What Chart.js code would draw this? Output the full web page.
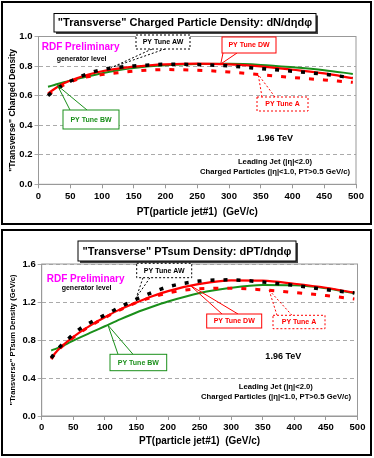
<!DOCTYPE html>
<html>
<head>
<meta charset="utf-8">
<script src="https://cdn.jsdelivr.net/npm/chart.js@4/dist/chart.umd.min.js"></script>
<style>
  body { margin: 0; background: #fff; width: 374px; height: 458px; overflow: hidden; position: relative; }
  .panel { position: absolute; left: 1px; width: 367px; border: 2px solid #000; background: #fff; }
  #p1 { top: 1px; height: 220px; }
  #p2 { top: 229px; height: 223px; }
  canvas { position: absolute; left: 0; top: 0; }
</style>
</head>
<body>
<div class="panel" id="p1"><canvas id="c1" width="367" height="220"></canvas></div>
<div class="panel" id="p2"><canvas id="c2" width="367" height="223"></canvas></div>
<script>
// PT of leading particle jet (GeV/c), shared by every curve
const pt = [15, 25, 40, 60, 80, 100, 125, 150, 175, 200, 250, 300, 350, 400, 450, 495];

// "Transverse" charged particle density dN/detadphi
const densAW = [0.600, 0.635, 0.675, 0.717, 0.752, 0.776, 0.791, 0.801, 0.807, 0.812, 0.810, 0.801, 0.783, 0.765, 0.745, 0.720];
const densDW = [0.615, 0.645, 0.683, 0.718, 0.745, 0.765, 0.783, 0.796, 0.805, 0.811, 0.816, 0.812, 0.798, 0.775, 0.750, 0.718];
const densBW = [0.660, 0.672, 0.690, 0.712, 0.733, 0.752, 0.771, 0.786, 0.798, 0.806, 0.814, 0.815, 0.808, 0.792, 0.772, 0.747];
const densA  = [0.605, 0.635, 0.672, 0.708, 0.730, 0.742, 0.755, 0.766, 0.773, 0.776, 0.772, 0.760, 0.742, 0.723, 0.706, 0.690];

// "Transverse" PTsum density dPT/detadphi (GeV/c)
const ptsumAW = [0.610, 0.700, 0.800, 0.915, 0.995, 1.062, 1.150, 1.230, 1.300, 1.360, 1.420, 1.433, 1.410, 1.375, 1.330, 1.295];
const ptsumDW = [0.610, 0.690, 0.780, 0.880, 0.965, 1.040, 1.125, 1.195, 1.260, 1.315, 1.390, 1.428, 1.425, 1.392, 1.350, 1.298];
const ptsumBW = [0.690, 0.715, 0.760, 0.825, 0.885, 0.945, 1.020, 1.090, 1.150, 1.205, 1.295, 1.350, 1.378, 1.375, 1.345, 1.292];
const ptsumA  = [0.600, 0.685, 0.775, 0.875, 0.960, 1.035, 1.120, 1.195, 1.250, 1.295, 1.340, 1.345, 1.328, 1.300, 1.268, 1.232];

const FONT = '"Liberation Sans", Arial, sans-serif';
const RED = '#ff0000';
const GREEN = '#1a8f1a';

function pts(ys) {
  return pt.map((x, i) => ({ x: x, y: ys[i] }));
}

function series(label, ys, color, width, dash) {
  return {
    label: label,
    data: pts(ys),
    borderColor: color,
    borderWidth: width,
    borderDash: dash || [],
    borderCapStyle: 'butt',
    pointRadius: 0,
    fill: false,
    cubicInterpolationMode: 'monotone'
  };
}

// boxes, callouts and notes drawn over the chart
const decor = {
  id: 'decor',
  afterDraw(chart, args, o) {
    const { ctx, chartArea: a, scales: { x, y } } = chart;
    ctx.save();

    ctx.strokeStyle = '#999';
    ctx.lineWidth = 1;
    ctx.setLineDash([]);
    ctx.strokeRect(a.left, a.top, a.right - a.left, a.bottom - a.top);

    // title box with shadow
    const t = o.title;
    ctx.fillStyle = '#444';
    ctx.fillRect(t.box[0] + 2, t.box[1] + 2, t.box[2], t.box[3]);
    ctx.fillStyle = '#fff';
    ctx.fillRect(t.box[0], t.box[1], t.box[2], t.box[3]);
    ctx.strokeStyle = '#000';
    ctx.strokeRect(t.box[0], t.box[1], t.box[2], t.box[3]);
    ctx.fillStyle = '#000';
    ctx.font = 'bold 11px ' + FONT;
    ctx.textAlign = 'center';
    ctx.textBaseline = 'middle';
    ctx.fillText(t.text, t.box[0] + t.box[2] / 2, t.box[1] + t.box[3] / 2 + 0.5);

    o.callouts.forEach(c => {
      const [bx, by, bw, bh] = c.box;
      const edge = c.up ? by : by + bh;
      const tx = x.getPixelForValue(c.tip[0]);
      const ty = y.getPixelForValue(c.tip[1]);
      ctx.strokeStyle = c.color;
      ctx.lineWidth = 1;
      ctx.setLineDash(c.dash ? [2, 2] : []);
      ctx.beginPath();
      ctx.moveTo(c.base[0], edge);
      ctx.lineTo(tx, ty);
      ctx.moveTo(c.base[1], edge);
      ctx.lineTo(tx, ty);
      ctx.stroke();
      ctx.fillStyle = '#fff';
      ctx.fillRect(bx, by, bw, bh);
      ctx.strokeRect(bx, by, bw, bh);
      ctx.setLineDash([]);
      ctx.fillStyle = c.color;
      ctx.font = 'bold 7px ' + FONT;
      ctx.textAlign = 'center';
      ctx.textBaseline = 'middle';
      ctx.fillText(c.text, bx + bw / 2, by + bh / 2 + 0.5);
    });

    o.notes.forEach(n => {
      ctx.fillStyle = n.color || '#000';
      ctx.font = 'bold ' + n.size + 'px ' + FONT;
      ctx.textAlign = n.align || 'center';
      ctx.textBaseline = 'middle';
      ctx.fillText(n.text, n.x, n.y);
    });
    ctx.restore();
  }
};

function makeChart(id, sets, cfg) {
  return new Chart(document.getElementById(id), {
    type: 'line',
    data: { datasets: sets },
    options: {
      responsive: false,
      animation: false,
      layout: { padding: { top: cfg.padTop, right: cfg.padRight, left: 0, bottom: 0 } },
      plugins: {
        legend: { display: false },
        tooltip: { enabled: false },
        decor: cfg.decor
      },
      scales: {
        x: {
          type: 'linear',
          min: 0,
          max: 500,
          afterFit: s => { s.height = cfg.xHeight; },
          ticks: { stepSize: 50, color: '#000', font: { family: FONT, size: 9.5, weight: 'bold' }, padding: 2, maxRotation: 0 },
          grid: { drawOnChartArea: false, drawTicks: true, tickLength: 4, color: '#999' },
          border: { color: '#999' },
          title: {
            display: true,
            text: 'PT(particle jet#1)  (GeV/c)',
            color: '#000',
            font: { family: FONT, size: 10, weight: 'bold' },
            padding: { top: 0, bottom: cfg.xTitlePad }
          }
        },
        y: {
          min: 0,
          max: cfg.yMax,
          afterFit: s => { s.width = cfg.yWidth; },
          ticks: { stepSize: cfg.yStep, color: '#000', font: { family: FONT, size: 9.5, weight: 'bold' }, padding: 2, callback: v => v.toFixed(1) },
          grid: { color: '#aaa', tickLength: 4 },
          border: { color: '#999', dash: [4, 3] },
          title: {
            display: true,
            text: cfg.yTitle,
            color: '#000',
            font: { family: FONT, size: cfg.yTitleSize, weight: 'bold' },
            padding: { top: cfg.yTitlePad, bottom: 0 }
          }
        }
      }
    },
    plugins: [decor]
  });
}

makeChart('c1', [
  series('PY Tune AW', densAW, '#000', 3.5, [4, 9]),
  series('PY Tune A', densA, RED, 3, [5, 9]),
  series('PY Tune DW', densDW, RED, 2.2),
  series('PY Tune BW', densBW, GREEN, 2)
], {
  padTop: 33.5, padRight: 14, xHeight: 38.7, yWidth: 35.5, yMax: 1.0, yStep: 0.2,
  xTitlePad: 5, yTitle: '"Transverse" Charged Density', yTitleSize: 8.5, yTitlePad: 4.4,
  decor: {
    title: { text: '"Transverse" Charged Particle Density: dN/d\u03B7d\u03C6', box: [51, 10.5, 262, 18.5] },
    callouts: [
      { text: 'PY Tune AW', color: '#000', dash: true, box: [133, 32, 54, 14], up: false, base: [149, 162], tip: [115, 0.79] },
      { text: 'PY Tune DW', color: RED, dash: false, box: [219, 34, 54, 16], up: false, base: [220, 234], tip: [287, 0.814] },
      { text: 'PY Tune A', color: RED, dash: true, box: [254, 94, 51, 14], up: true, base: [259, 272], tip: [346, 0.743] },
      { text: 'PY Tune BW', color: GREEN, dash: false, box: [60, 107, 56, 19], up: true, base: [67, 84], tip: [30, 0.668] }
    ],
    notes: [
      { text: 'RDF Preliminary', x: 38.7, y: 44.7, size: 10, color: '#ff00ff', align: 'left' },
      { text: 'generator level', x: 53.7, y: 56.3, size: 7, align: 'left' },
      { text: '1.96 TeV', x: 272, y: 135.3, size: 9 },
      { text: 'Leading Jet (|\u03B7|<2.0)', x: 272, y: 158.7, size: 7.7 },
      { text: 'Charged Particles (|\u03B7|<1.0, PT>0.5 GeV/c)', x: 272, y: 169.3, size: 7.7 }
    ]
  }
});

makeChart('c2', [
  series('PY Tune AW', ptsumAW, '#000', 3.5, [4, 9]),
  series('PY Tune A', ptsumA, RED, 3, [5, 9]),
  series('PY Tune DW', ptsumDW, RED, 2.2),
  series('PY Tune BW', ptsumBW, GREEN, 2)
], {
  padTop: 33, padRight: 12.5, xHeight: 38, yWidth: 38.7, yMax: 1.6, yStep: 0.4,
  xTitlePad: 6.3, yTitle: '"Transverse" PTsum Density (GeV/c)', yTitleSize: 7.5, yTitlePad: 5,
  decor: {
    title: { text: '"Transverse" PTsum Density: dPT/d\u03B7d\u03C6', box: [75, 10, 218, 20] },
    callouts: [
      { text: 'PY Tune AW', color: '#000', dash: true, box: [133.7, 32.3, 55, 14.4], up: false, base: [140, 147], tip: [150, 1.25] },
      { text: 'PY Tune DW', color: RED, dash: false, box: [203.7, 83, 55, 14], up: true, base: [219, 235], tip: [235, 1.375] },
      { text: 'PY Tune A', color: RED, dash: true, box: [270, 84.3, 52, 13.4], up: true, base: [274, 289], tip: [360, 1.325] },
      { text: 'PY Tune BW', color: GREEN, dash: false, box: [107, 123.3, 56.7, 16.4], up: true, base: [115, 130], tip: [105, 0.955] }
    ],
    notes: [
      { text: 'RDF Preliminary', x: 43.7, y: 48, size: 10, color: '#ff00ff', align: 'left' },
      { text: 'generator level', x: 58.7, y: 57.3, size: 7, align: 'left' },
      { text: '1.96 TeV', x: 280.3, y: 125.7, size: 9 },
      { text: 'Leading Jet (|\u03B7|<2.0)', x: 272.8, y: 155.7, size: 7.7 },
      { text: 'Charged Particles (|\u03B7|<1.0, PT>0.5 GeV/c)', x: 273, y: 166.3, size: 7.7 }
    ]
  }
});
</script>
</body>
</html>
